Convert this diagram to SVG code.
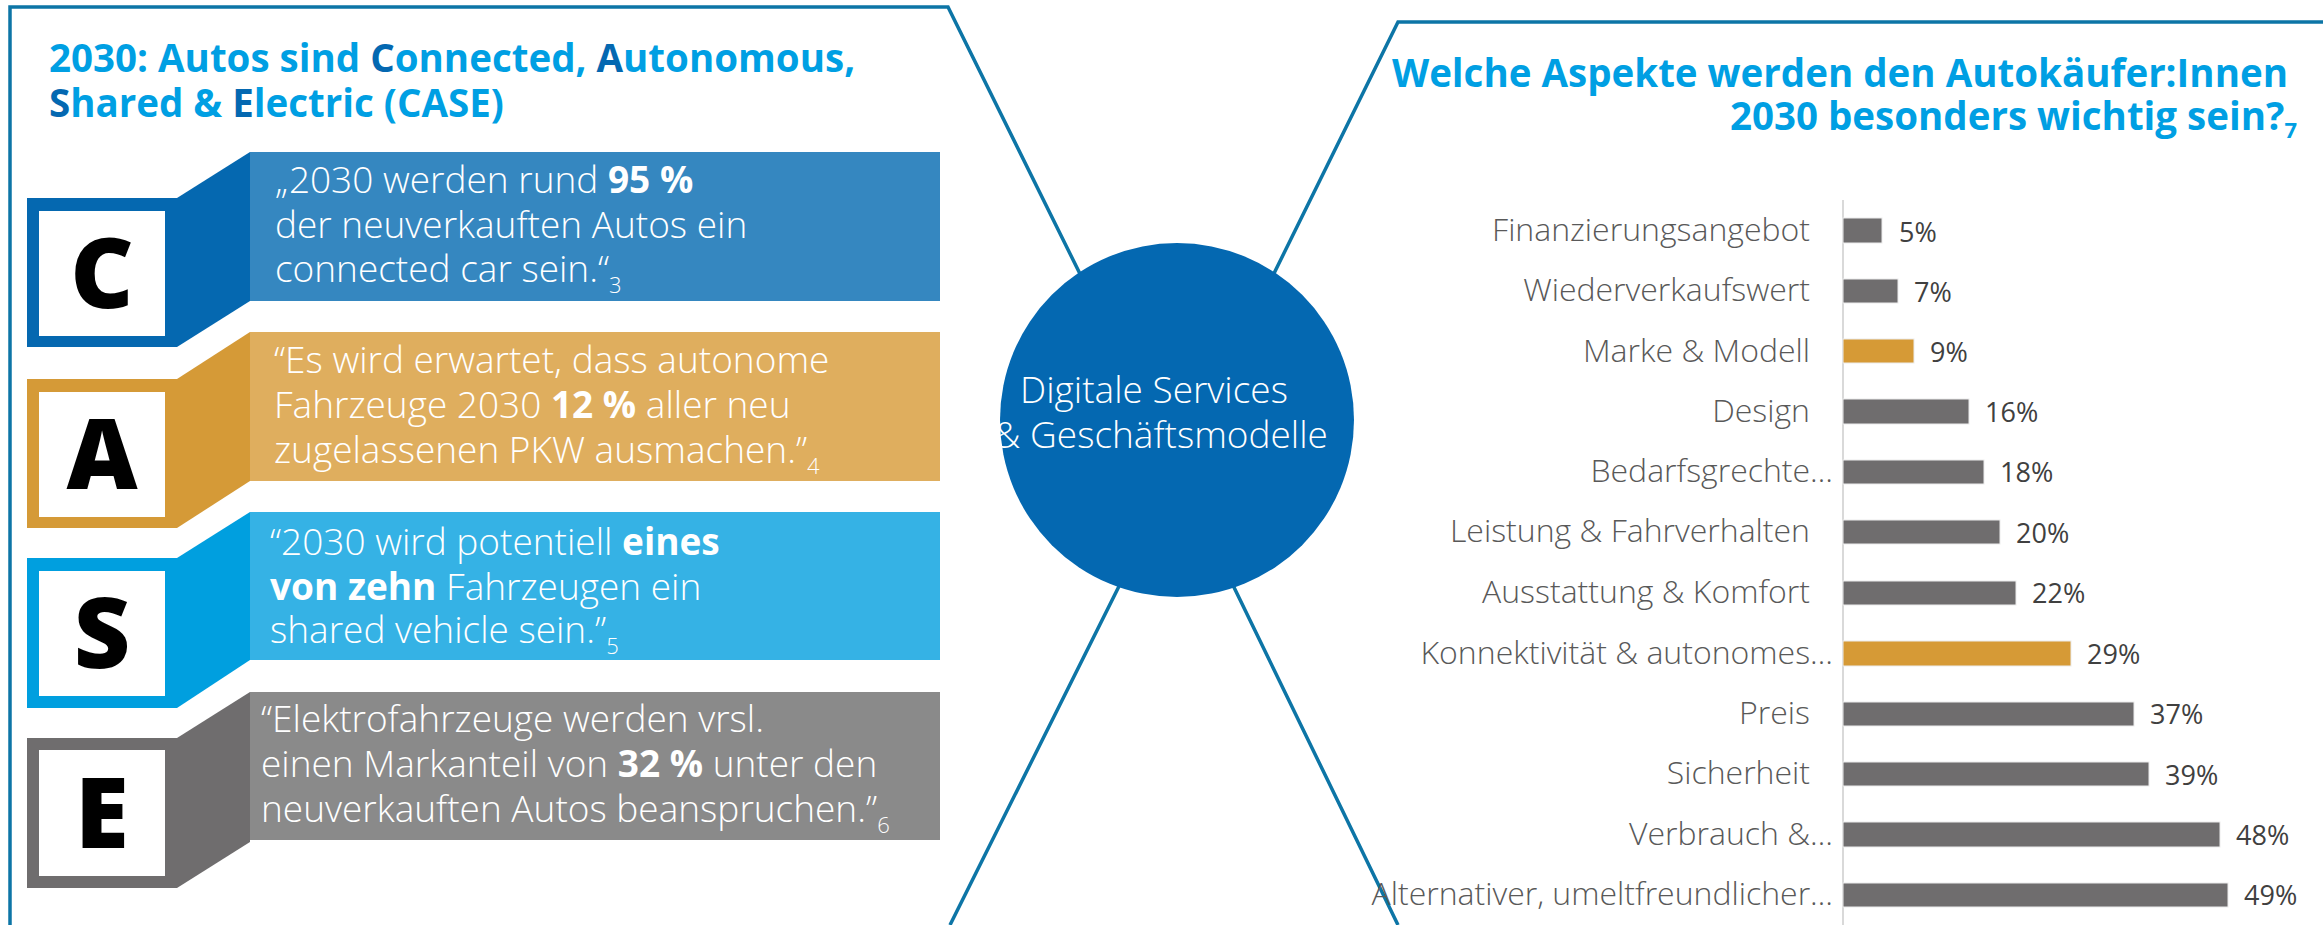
<svg xmlns="http://www.w3.org/2000/svg" width="2323" height="925" viewBox="0 0 2323 925">
<style>
.border{fill:none;stroke:#0d75a6;stroke-width:3.5;stroke-linejoin:miter}
.ttl{font-family:"Open Sans","Liberation Sans",sans-serif;font-weight:700;font-size:38.5px;fill:#009fe3}
.dk{fill:#0468b1}
.q{font-family:"Open Sans","Liberation Sans",sans-serif;font-weight:300;font-size:37px;fill:#ffffff}
.q .b{font-weight:700}
.sub{font-size:22px}
.let{font-family:"Open Sans","Liberation Sans",sans-serif;font-weight:800;font-size:98px;fill:#000000;text-anchor:middle}
.inner{fill:#ffffff}
.circ{font-family:"Open Sans","Liberation Sans",sans-serif;font-weight:300;font-size:37px;fill:#ffffff;text-anchor:middle}
.lbl{font-family:"Open Sans","Liberation Sans",sans-serif;font-weight:300;font-size:32px;fill:#595959;text-anchor:end}
.val{font-family:"Open Sans","Liberation Sans",sans-serif;font-weight:400;font-size:27px;fill:#404040}
.bar{fill:#6f6d6e;stroke:#ececec;stroke-width:1}
.bar.or{fill:#d69a36}
</style>
<rect width="2323" height="925" fill="#ffffff"/>

<g id="connectors">
<path class="border" d="M10,925 L10,7 L948,7 L1177,470 L950,925"/>
<path class="border" d="M2330,22 L1398,22 L1177,470 L1398,925"/>
</g>

<g id="title-left">
<text class="ttl" x="49" y="72">2030: Autos sind <tspan class="dk">C</tspan>onnected, <tspan class="dk">A</tspan>utonomous,</text>
<text class="ttl" x="49" y="117"><tspan class="dk">S</tspan>hared &amp; <tspan class="dk">E</tspan>lectric (CASE)</text>
</g>

<g id="case-c">
<rect x="250" y="152" width="690" height="149" fill="#3587c0"/>
<polygon points="177,198 250,152 250,301 177,347" fill="#0568b0"/>
<rect x="27" y="198" width="150" height="149" fill="#0568b0"/>
<rect class="inner" x="39" y="211" width="126" height="125"/>
<text class="let" x="102" y="308">C</text>
<text class="q" x="275" y="193">„2030 werden rund <tspan class="b">95 %</tspan></text>
<text class="q" x="275" y="238">der neuverkauften Autos ein</text>
<text class="q" x="275" y="282">connected car sein.“<tspan class="sub" dy="11">3</tspan></text>
</g>

<g id="case-a">
<rect x="250" y="332" width="690" height="149" fill="#dfae5e"/>
<polygon points="177,379 250,332 250,481 177,528" fill="#d59a37"/>
<rect x="27" y="379" width="150" height="149" fill="#d59a37"/>
<rect class="inner" x="39" y="392" width="126" height="125"/>
<text class="let" x="102" y="489">A</text>
<text class="q" x="274" y="373">“Es wird erwartet, dass autonome</text>
<text class="q" x="274" y="418">Fahrzeuge 2030 <tspan class="b">12 %</tspan> aller neu</text>
<text class="q" x="274" y="463">zugelassenen PKW ausmachen.”<tspan class="sub" dy="11">4</tspan></text>
</g>

<g id="case-s">
<rect x="250" y="512" width="690" height="148" fill="#35b2e5"/>
<polygon points="177,558 250,512 250,660 177,708" fill="#009fdf"/>
<rect x="27" y="558" width="150" height="150" fill="#009fdf"/>
<rect class="inner" x="39" y="571" width="126" height="125"/>
<text class="let" x="102" y="668">S</text>
<text class="q" x="270" y="555">“2030 wird potentiell <tspan class="b">eines</tspan></text>
<text class="q" x="270" y="600"><tspan class="b">von zehn</tspan> Fahrzeugen ein</text>
<text class="q" x="270" y="643">shared vehicle sein.”<tspan class="sub" dy="11">5</tspan></text>
</g>

<g id="case-e">
<rect x="250" y="692" width="690" height="148" fill="#8a8a8a"/>
<polygon points="177,738 250,692 250,842 177,888" fill="#6f6d6e"/>
<rect x="27" y="738" width="150" height="150" fill="#6f6d6e"/>
<rect class="inner" x="39" y="750" width="126" height="126"/>
<text class="let" x="102" y="848">E</text>
<text class="q" x="261" y="732">“Elektrofahrzeuge werden vrsl.</text>
<text class="q" x="261" y="777">einen Markanteil von <tspan class="b">32 %</tspan> unter den</text>
<text class="q" x="261" y="822">neuverkauften Autos beanspruchen.”<tspan class="sub" dy="11">6</tspan></text>
</g>

<g id="center">
<circle cx="1177" cy="420" r="177" fill="#0468b1"/>
<text class="circ" x="1154" y="403">Digitale Services</text>
<text class="circ" x="1161" y="448">&amp; Geschäftsmodelle</text>
</g>

<g id="title-right">
<text class="ttl" x="2288" y="87" text-anchor="end">Welche Aspekte werden den Autokäufer:Innen</text>
<text class="ttl" x="2297" y="130" text-anchor="end">2030 besonders wichtig sein?<tspan class="sub" dy="8">7</tspan></text>
</g>

<g id="chart">
<line x1="1843" y1="200" x2="1843" y2="925" stroke="#d9d9d9" stroke-width="2"/>
<g id="row-1"><rect class="bar" x="1843" y="218" width="39" height="25"/><text class="lbl" x="1810" y="241">Finanzierungsangebot</text><text class="val" x="1899" y="242">5%</text></g>
<g id="row-2"><rect class="bar" x="1843" y="279" width="55" height="24"/><text class="lbl" x="1810" y="301">Wiederverkaufswert</text><text class="val" x="1914" y="302">7%</text></g>
<g id="row-3"><rect class="bar or" x="1843" y="339" width="71" height="24"/><text class="lbl" x="1810" y="362">Marke &amp; Modell</text><text class="val" x="1930" y="362">9%</text></g>
<g id="row-4"><rect class="bar" x="1843" y="399" width="126" height="25"/><text class="lbl" x="1810" y="422">Design</text><text class="val" x="1985" y="422">16%</text></g>
<g id="row-5"><rect class="bar" x="1843" y="460" width="141" height="24"/><text class="lbl" x="1833" y="482">Bedarfsgrechte…</text><text class="val" x="2000" y="482">18%</text></g>
<g id="row-6"><rect class="bar" x="1843" y="520" width="157" height="24"/><text class="lbl" x="1810" y="542">Leistung &amp; Fahrverhalten</text><text class="val" x="2016" y="543">20%</text></g>
<g id="row-7"><rect class="bar" x="1843" y="581" width="173" height="24"/><text class="lbl" x="1810" y="603">Ausstattung &amp; Komfort</text><text class="val" x="2032" y="603">22%</text></g>
<g id="row-8"><rect class="bar or" x="1843" y="641" width="228" height="25"/><text class="lbl" x="1833" y="664">Konnektivität &amp; autonomes…</text><text class="val" x="2087" y="664">29%</text></g>
<g id="row-9"><rect class="bar" x="1843" y="702" width="291" height="24"/><text class="lbl" x="1810" y="724">Preis</text><text class="val" x="2150" y="724">37%</text></g>
<g id="row-10"><rect class="bar" x="1843" y="762" width="306" height="24"/><text class="lbl" x="1810" y="784">Sicherheit</text><text class="val" x="2165" y="785">39%</text></g>
<g id="row-11"><rect class="bar" x="1843" y="822" width="377" height="25"/><text class="lbl" x="1833" y="845">Verbrauch &amp;…</text><text class="val" x="2236" y="845">48%</text></g>
<g id="row-12"><rect class="bar" x="1843" y="883" width="385" height="24"/><text class="lbl" x="1833" y="905">Alternativer, umeltfreundlicher…</text><text class="val" x="2244" y="905">49%</text></g>
</g>
</svg>
